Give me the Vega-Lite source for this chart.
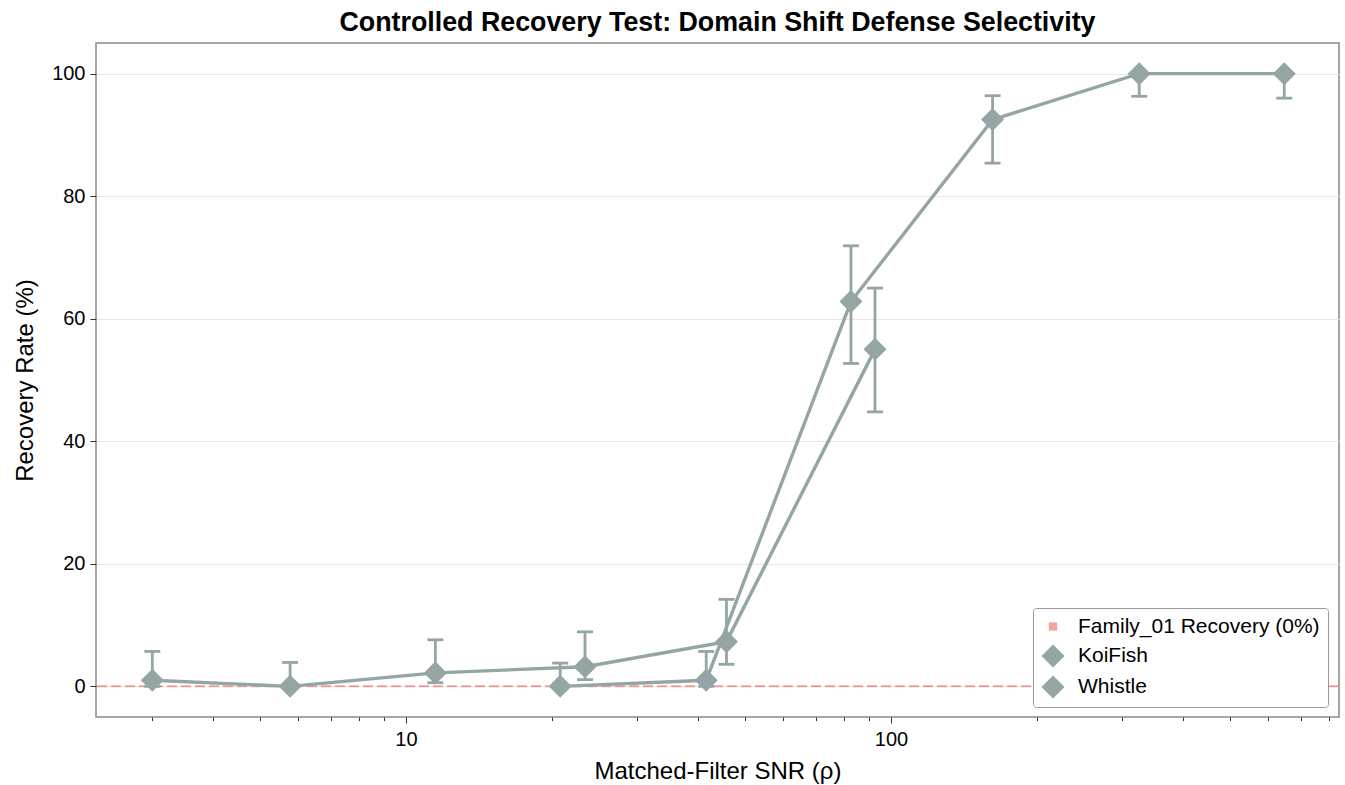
{
  "$schema": "https://vega.github.io/schema/vega-lite/v6.json",
  "width": 1243,
  "height": 674,
  "autosize": "none",
  "padding": {"left": 96, "top": 43, "right": 6, "bottom": 68},
  "title": {"text": "Controlled Recovery Test: Domain Shift Defense Selectivity", "fontSize": 26.8, "fontWeight": "bold", "font": "Liberation Sans", "color": "#000000", "anchor": "middle", "offset": 6},
  "datasets": {
    "main": [
      {"series": "Whistle", "snr": 3.0, "rate": 1.0, "lo": 0, "hi": 5.7},
      {"series": "Whistle", "snr": 5.77, "rate": 0, "lo": 0, "hi": 3.9},
      {"series": "Whistle", "snr": 11.5, "rate": 2.2, "lo": 0.6, "hi": 7.6},
      {"series": "Whistle", "snr": 23.4, "rate": 3.2, "lo": 1.1, "hi": 8.9},
      {"series": "Whistle", "snr": 45.8, "rate": 7.3, "lo": 3.6, "hi": 14.2},
      {"series": "Whistle", "snr": 92.7, "rate": 55.0, "lo": 44.8, "hi": 65.0},
      {"series": "KoiFish", "snr": 20.8, "rate": 0, "lo": 0, "hi": 3.8},
      {"series": "KoiFish", "snr": 41.6, "rate": 1.0, "lo": 0, "hi": 5.7},
      {"series": "KoiFish", "snr": 82.7, "rate": 62.8, "lo": 52.7, "hi": 71.9},
      {"series": "KoiFish", "snr": 162, "rate": 92.5, "lo": 85.4, "hi": 96.4},
      {"series": "KoiFish", "snr": 325, "rate": 100, "lo": 96.3, "hi": 100},
      {"series": "KoiFish", "snr": 647, "rate": 100, "lo": 96.0, "hi": 100}
    ],
    "baseline": [{"label": "Family_01 Recovery (0%)", "rate": 0}]
  },
  "layer": [
    {
      "data": {"name": "baseline"},
      "mark": {"type": "rule", "color": "#e74c3c", "opacity": 0.5, "strokeWidth": 2, "strokeDash": [10, 4]},
      "encoding": {
        "y": {"field": "rate", "type": "quantitative", "title": "Recovery Rate (%)", "scale": {"domain": [-5, 105], "nice": false, "zero": false}, "axis": {"values": [0, 20, 40, 60, 80, 100]}}
      }
    },
    {
      "data": {"name": "main"},
      "mark": {"type": "rule", "color": "#95a5a6", "strokeWidth": 2.8},
      "encoding": {
        "x": {"field": "snr", "type": "quantitative", "title": "Matched-Filter SNR (ρ)", "scale": {"type": "log", "domain": [2.296, 839], "nice": false}},
        "y": {"field": "lo", "type": "quantitative", "title": "Recovery Rate (%)", "axis": {"values": [0, 20, 40, 60, 80, 100]}},
        "y2": {"field": "hi"}
      }
    },
    {
      "data": {"name": "main"},
      "mark": {"type": "tick", "orient": "horizontal", "color": "#95a5a6", "size": 16, "thickness": 2.8, "opacity": 1},
      "encoding": {
        "x": {"field": "snr", "type": "quantitative", "title": "Matched-Filter SNR (ρ)"},
        "y": {"field": "hi", "type": "quantitative", "title": "Recovery Rate (%)", "axis": {"values": [0, 20, 40, 60, 80, 100]}}
      }
    },
    {
      "data": {"name": "main"},
      "mark": {"type": "tick", "orient": "horizontal", "color": "#95a5a6", "size": 16, "thickness": 2.8, "opacity": 1},
      "encoding": {
        "x": {"field": "snr", "type": "quantitative", "title": "Matched-Filter SNR (ρ)"},
        "y": {"field": "lo", "type": "quantitative", "title": "Recovery Rate (%)", "axis": {"values": [0, 20, 40, 60, 80, 100]}}
      }
    },
    {
      "data": {"name": "main"},
      "mark": {"type": "line", "color": "#95a5a6", "strokeWidth": 3.4},
      "encoding": {
        "x": {"field": "snr", "type": "quantitative", "title": "Matched-Filter SNR (ρ)"},
        "y": {"field": "rate", "type": "quantitative", "title": "Recovery Rate (%)", "axis": {"values": [0, 20, 40, 60, 80, 100]}},
        "detail": {"field": "series"}
      }
    },
    {
      "data": {"name": "main"},
      "mark": {"type": "point", "filled": true, "opacity": 1},
      "encoding": {
        "x": {"field": "snr", "type": "quantitative", "title": "Matched-Filter SNR (ρ)"},
        "y": {"field": "rate", "type": "quantitative", "title": "Recovery Rate (%)", "axis": {"values": [0, 20, 40, 60, 80, 100]}},
        "shape": {
          "field": "series", "type": "nominal",
          "scale": {"domain": ["Family_01 Recovery (0%)", "KoiFish", "Whistle"], "range": ["square", "diamond", "diamond"]}
        },
        "size": {
          "field": "series", "type": "nominal",
          "scale": {"type": "ordinal", "domain": ["Family_01 Recovery (0%)", "KoiFish", "Whistle"], "range": [70, 530, 530]}
        },
        "color": {
          "field": "series", "type": "nominal",
          "scale": {"domain": ["Family_01 Recovery (0%)", "KoiFish", "Whistle"], "range": ["#f3a69d", "#95a5a6", "#95a5a6"]},
          "legend": {
            "title": null, "orient": "none", "legendX": 937, "legendY": 565,
            "strokeColor": "#999999", "fillColor": "#ffffff", "padding": 8, "cornerRadius": 3,
            "labelFontSize": 21, "labelFont": "Liberation Sans", "labelColor": "#000000", "labelLimit": 400,
            "rowPadding": 7, "labelOffset": 13, "symbolStrokeWidth": 0
          }
        }
      }
    }
  ],
  "config": {
    "view": {"stroke": "#888888", "strokeWidth": 1.5},
    "font": "Liberation Sans",
    "axis": {"labelFont": "Liberation Sans", "titleFont": "Liberation Sans", "labelFontSize": 20, "titleFontSize": 24, "titleFontWeight": "normal", "labelColor": "#000000", "titleColor": "#000000", "tickColor": "#333333", "domain": false, "gridColor": "#e8e8e8", "gridWidth": 1},
    "axisX": {
      "values": [3, 4, 5, 6, 7, 8, 9, 10, 20, 30, 40, 50, 60, 70, 80, 90, 100, 200, 300, 400, 500, 600, 700, 800],
      "labelExpr": "datum.value == 10 ? '10' : datum.value == 100 ? '100' : ''",
      "tickSize": {"condition": {"test": "datum.value == 10 || datum.value == 100", "value": 6}, "value": 3.5},
      "gridOpacity": {"condition": {"test": "datum.value == 10 || datum.value == 100", "value": 1}, "value": 0},
      "labelPadding": 6, "titlePadding": 10, "labelFlush": false, "labelOverlap": false
    },
    "axisY": {"tickSize": 6, "labelPadding": 5, "titlePadding": 14}
  }
}
